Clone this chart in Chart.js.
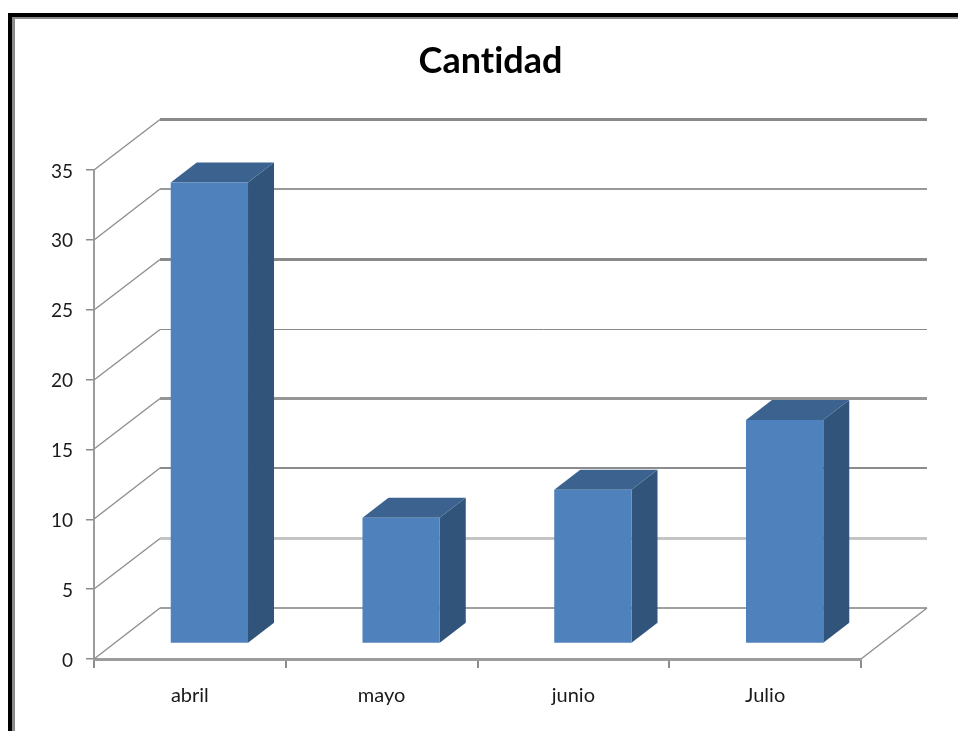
<!DOCTYPE html>
<html lang="es">
<head>
<meta charset="utf-8">
<title>Cantidad</title>
<script src="https://cdn.jsdelivr.net/npm/chart.js@4"></script>
<style>
  html, body { margin: 0; padding: 0; background: #fff; }
  canvas { display: block; }
</style>
</head>
<body>
<canvas id="chart" width="958" height="731"></canvas>
<script>
const categories = ['abril', 'mayo', 'junio', 'Julio'];
const cantidad = [33, 9, 11, 16];
const yTicks = [0, 5, 10, 15, 20, 25, 30, 35];

// Stroke of the back-wall gridline for each tick in yTicks
const wallLineWidths = [2, 3, 2, 3, 1, 3, 2, 3];
const wallLineColors = ['#a0a0a0', '#c4c4c4', '#8c8c8c', '#969696', '#8a8a8a', '#8a8a8a', '#999999', '#8a8a8a'];

// Pseudo-3D geometry, in pixels
const WALL_DX = 66, WALL_DY = 51;      // depth of the floor and walls
const BAR_DX = 19.5, BAR_DY = 15.5;    // where the bars stand on the floor
const DEPTH_DX = 26, DEPTH_DY = 20;    // depth of each bar
const TITLE_SHIFT = 60;                // title sits over the plot including its depth

const FONT = 'Lato, "Open Sans", sans-serif';

function line(ctx, x1, y1, x2, y2, color, width) {
  ctx.strokeStyle = color;
  ctx.lineWidth = width;
  ctx.beginPath();
  ctx.moveTo(x1, y1);
  ctx.lineTo(x2, y2);
  ctx.stroke();
}

function face(ctx, pts, color) {
  ctx.fillStyle = color;
  ctx.beginPath();
  pts.forEach((p, i) => i ? ctx.lineTo(p[0], p[1]) : ctx.moveTo(p[0], p[1]));
  ctx.closePath();
  ctx.fill();
}

// Outer frame around the whole chart
const framePlugin = {
  id: 'frame',
  afterLayout(chart) {
    chart.titleBlock.left += TITLE_SHIFT;
    chart.titleBlock.right += TITLE_SHIFT;
  },
  beforeDraw(chart) {
    const { ctx, width, height } = chart;
    ctx.textRendering = 'optimizeSpeed';   // keeps "ti" from forming a ligature
    ctx.save();
    ctx.fillStyle = '#ffffff';
    ctx.fillRect(0, 0, width, height);
    ctx.fillStyle = '#8a8a8a';
    ctx.fillRect(12, 16, width - 12, 3);
    ctx.fillRect(12, 16, 3, height - 16);
    ctx.fillStyle = '#000000';
    ctx.fillRect(8, 13, width - 8, 4);
    ctx.fillRect(8, 13, 4, height - 13);
    ctx.restore();
  }
};

// Floor, back wall and side wall lines, plus the depth faces of the bars
const depthPlugin = {
  id: 'depth',
  beforeDatasetsDraw(chart) {
    const { ctx, chartArea: a, scales } = chart;
    ctx.save();
    yTicks.forEach((v, i) => {
      const y = Math.round(scales.y.getPixelForValue(v));
      const back = y - WALL_DY + (wallLineWidths[i] % 2 ? 0.5 : 0);
      line(ctx, a.left, y, a.left + WALL_DX, back, '#8f8f8f', 1.4);
      line(ctx, a.left + WALL_DX, back, a.right + WALL_DX, back, wallLineColors[i], wallLineWidths[i]);
    });
    const y0 = scales.y.getPixelForValue(0);
    line(ctx, a.right, y0, a.right + WALL_DX, y0 - WALL_DY, '#8f8f8f', 1.4);

    // Side and top of each bar, shifted back onto the floor
    ctx.translate(BAR_DX, -BAR_DY);
    chart.getDatasetMeta(0).data.forEach(bar => {
      const l = bar.x - bar.width / 2, r = bar.x + bar.width / 2;
      const t = bar.y, b = bar.base;
      face(ctx, [[r, t], [r + DEPTH_DX, t - DEPTH_DY], [r + DEPTH_DX, b - DEPTH_DY], [r, b]], '#31547b');
      face(ctx, [[l, t], [l + DEPTH_DX, t - DEPTH_DY], [r + DEPTH_DX, t - DEPTH_DY], [r, t]], '#3c6390');
    });
    // Left in place so the front faces land on the same plane
  },
  afterDatasetsDraw(chart) {
    chart.ctx.restore();
  }
};

new Chart(document.getElementById('chart'), {
  type: 'bar',
  data: {
    labels: categories,
    datasets: [{
      label: 'Cantidad',
      data: cantidad,
      backgroundColor: '#4f81bd',
      borderWidth: 0,
      categoryPercentage: 1,
      barPercentage: 0.403,
      clip: false
    }]
  },
  plugins: [framePlugin, depthPlugin],
  options: {
    responsive: false,
    animation: false,
    events: [],
    layout: { padding: { left: 0, right: 97, top: 0, bottom: 0 } },
    plugins: {
      legend: { display: false },
      tooltip: { enabled: false },
      title: {
        display: true,
        text: 'Cantidad',
        color: '#000000',
        font: { family: FONT, size: 36, weight: 'bold', lineHeight: 1.2 },
        padding: { top: 40, bottom: 86.8 }
      }
    },
    scales: {
      x: {
        afterFit(scale) { scale.height = 72; },
        border: { display: true, color: '#9c9c9c', width: 3 },
        grid: { drawOnChartArea: false, offset: true, drawTicks: true, tickLength: 9, color: '#8c8c8c', lineWidth: 2 },
        ticks: { color: '#1a1a1a', font: { family: FONT, size: 20 }, padding: 16, maxRotation: 0 }
      },
      y: {
        min: 0,
        max: 35,
        afterFit(scale) { scale.width = 94; },
        afterBuildTicks(scale) { scale.ticks = yTicks.map(value => ({ value })); },
        border: { display: true, color: '#9c9c9c', width: 2 },
        grid: { drawOnChartArea: false, drawTicks: true, tickLength: 8, color: '#8c8c8c', lineWidth: 1.5 },
        ticks: { color: '#1a1a1a', font: { family: FONT, size: 19 }, padding: 13, labelOffset: 1.5 }
      }
    }
  }
});
</script>
</body>
</html>
